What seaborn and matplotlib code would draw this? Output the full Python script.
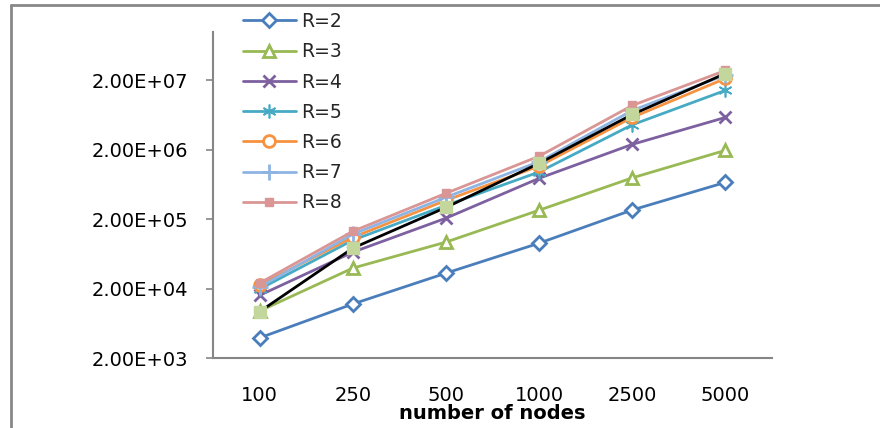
import matplotlib
matplotlib.use("Agg")
import matplotlib.pyplot as plt
from matplotlib.lines import Line2D
import seaborn as sns
import pandas as pd

# ---- data ----
nodes = ["100", "250", "500", "1000", "2500", "5000"]
r2 = [3900, 12000, 33400, 90400, 272000, 680000]
r3 = [9500, 39500, 93600, 270000, 790000, 1970000]
r4 = [16000, 67000, 207000, 778000, 2400000, 5870000]
r5 = [19700, 99800, 317000, 960000, 4600000, 14400000]
r6 = [22500, 110000, 374000, 1170000, 5870000, 21400000]
r7 = [21000, 122000, 415000, 1350000, 7400000, 24000000]
r8 = [24000, 134000, 473000, 1620000, 8730000, 27900000]
extra = [9300, 76600, 296000, 1280000, 6470000, 25200000]
series_names = ["R=2", "R=3", "R=4", "R=5", "R=6", "R=7", "R=8"]
ytick_vals = [2e3, 2e4, 2e5, 2e6, 2e7]
ytick_labels = ["2.00E+03", "2.00E+04", "2.00E+05", "2.00E+06", "2.00E+07"]

sns.set_theme(style="white")
plt.rcParams["font.family"] = ["DejaVu Sans"]

fig = plt.figure(figsize=(8.8, 4.28), dpi=100)
ax = fig.add_axes([213 / 880, 70 / 428, 559 / 880, 326 / 428])

pos = list(range(len(nodes)))

styles = {
    "R=2": dict(color="#4A7EBB", marker="D", markerfacecolor="white", markeredgecolor="#4A7EBB", markersize=7, markeredgewidth=2),
    "R=3": dict(color="#98B954", marker="^", markerfacecolor="white", markeredgecolor="#98B954", markersize=8.5, markeredgewidth=2),
    "R=4": dict(color="#7D60A0", marker="x", markerfacecolor="#7D60A0", markeredgecolor="#7D60A0", markersize=9, markeredgewidth=2),
    "R=5": dict(color="#46AAC5", marker=(6, 2, 0), markerfacecolor="#46AAC5", markeredgecolor="#46AAC5", markersize=10, markeredgewidth=1.2),
    "R=6": dict(color="#F69240", marker="o", markerfacecolor="white", markeredgecolor="#F69240", markersize=8.5, markeredgewidth=2),
    "R=7": dict(color="#8EB4E3", marker="+", markerfacecolor="#8EB4E3", markeredgecolor="#8EB4E3", markersize=11, markeredgewidth=2),
    "R=8": dict(color="#D99694", marker="s", markerfacecolor="#D99694", markeredgecolor="#D99694", markersize=5.5, markeredgewidth=1),
}
values = [r2, r3, r4, r5, r6, r7, r8]

for name, vals in zip(series_names, values):
    df = pd.DataFrame({"x": pos, "y": vals})
    sns.lineplot(data=df, x="x", y="y", ax=ax, linewidth=2.0, label=name, **styles[name])

df_extra = pd.DataFrame({"x": pos, "y": extra})
sns.lineplot(data=df_extra, x="x", y="y", ax=ax, color="black", linewidth=2.0,
             marker="s", markerfacecolor="#C3D69B", markeredgecolor="#C3D69B",
             markersize=8, markeredgewidth=1, legend=False)

ax.set_yscale("log")
ax.set_ylim(2e3, 1e8)
ax.set_xlim(-0.5, 5.5)
ax.set_yticks(ytick_vals)
ax.set_yticklabels(ytick_labels)
ax.yaxis.set_minor_locator(matplotlib.ticker.NullLocator())
ax.set_xticks(pos)
ax.set_xticklabels(nodes)

for side in ["top", "right"]:
    ax.spines[side].set_visible(False)
for side in ["left", "bottom"]:
    ax.spines[side].set_color("#868686")
    ax.spines[side].set_linewidth(1.5)

ax.tick_params(axis="y", which="major", direction="out", length=5, width=1.2,
               color="#868686", pad=13, labelsize=14, labelcolor="black", left=True)
ax.tick_params(axis="x", which="major", length=0, pad=20, labelsize=14, labelcolor="black")
ax.set_ylabel("")
ax.set_xlabel("number of nodes", fontsize=14, fontweight="bold", color="black")
ax.xaxis.set_label_coords(0.5, -0.142)
ax.xaxis.label.set_va("top")

handles, labels = ax.get_legend_handles_labels()
if ax.get_legend() is not None:
    ax.get_legend().remove()
fig.legend(handles, labels, loc="upper left", bbox_to_anchor=(243 / 880, 1 - 12 / 428),
           frameon=False, fontsize=13.5, handlelength=2.8, handletextpad=0.3,
           labelspacing=0.6, borderpad=0, borderaxespad=0)

# outer frame (partial, as in the cropped reference)
fig.add_artist(Line2D([11 / 880, 1.0], [1 - 5 / 428, 1 - 5 / 428], transform=fig.transFigure,
                      color="#888888", linewidth=2))
fig.add_artist(Line2D([11 / 880, 11 / 880], [0.0, 1 - 5 / 428], transform=fig.transFigure,
                      color="#888888", linewidth=2))

fig.savefig("out.png", dpi=100)
